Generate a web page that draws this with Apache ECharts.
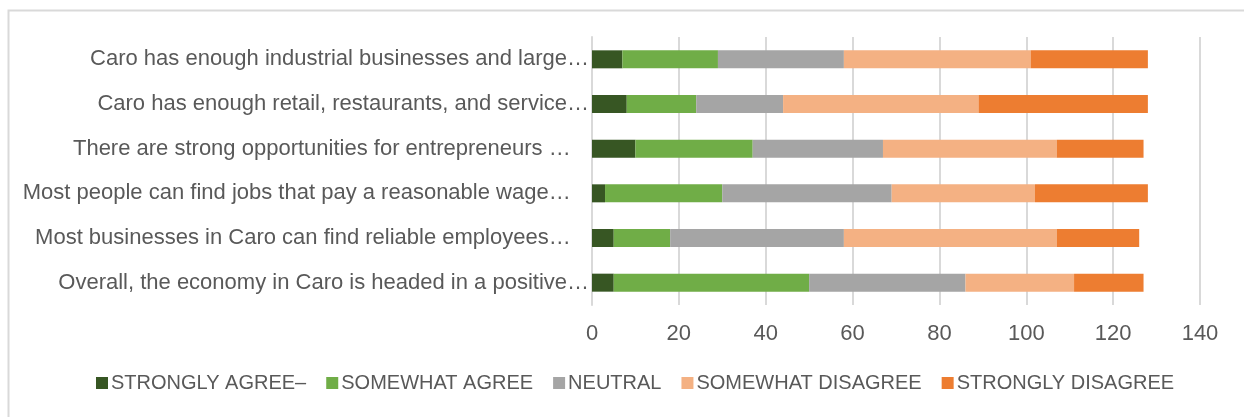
<!DOCTYPE html>
<html>
<head>
<meta charset="utf-8">
<script src="https://cdn.jsdelivr.net/npm/echarts@6/dist/echarts.min.js"></script>
<style>
  html, body { margin: 0; padding: 0; background: #ffffff; }
  #chart { width: 1244px; height: 417px; }
</style>
</head>
<body>
<div id="chart"></div>
<script>
// Survey statements, listed bottom to top as the category axis draws them
const statements = [
  'Overall, the economy in Caro is headed in a positive…',
  'Most businesses in Caro can find reliable employees…\u00a0\u00a0\u00a0',
  'Most people can find jobs that pay a reasonable wage…\u00a0\u00a0\u00a0',
  'There are strong opportunities for entrepreneurs …\u00a0\u00a0\u00a0',
  'Caro has enough retail, restaurants, and service…',
  'Caro has enough industrial businesses and large…'
];

const responseLevels = ['STRONGLY AGREE–', 'SOMEWHAT AGREE', 'NEUTRAL', 'SOMEWHAT DISAGREE', 'STRONGLY DISAGREE'];

// Response counts per statement (same order as statements)
const stronglyAgree    = [5, 5, 3, 10, 8, 7];
const somewhatAgree    = [45, 13, 27, 27, 16, 22];
const neutral          = [36, 40, 39, 30, 20, 29];
const somewhatDisagree = [25, 49, 33, 40, 45, 43];
const stronglyDisagree = [16, 19, 26, 20, 39, 27];

const axisTicks = { min: 0, max: 140, interval: 20 };

const levelColors = ['#375623', '#70AD47', '#A5A5A5', '#F4B183', '#ED7D31'];
const seriesValues = [stronglyAgree, somewhatAgree, neutral, somewhatDisagree, stronglyDisagree];

const FONT = "'Liberation Sans', Arial, sans-serif";

const chart = echarts.init(document.getElementById('chart'), null, { renderer: 'canvas' });

chart.setOption({
  animation: false,
  backgroundColor: '#ffffff',
  textStyle: { fontFamily: FONT },
  graphic: [{
    type: 'rect',
    left: 6, top: 8,
    shape: { width: 1300, height: 500 },
    style: { fill: 'none', stroke: '#d9d9d9', lineWidth: 2 },
    silent: true,
    z: -1
  }],
  grid: { left: 592, right: 44, top: 37, bottom: 112, containLabel: false, outerBoundsMode: 'none' },
  legend: {
    data: responseLevels,
    bottom: 19,
    left: 91,
    itemWidth: 12,
    itemHeight: 12,
    itemGap: 20,
    icon: 'rect',
    textStyle: { color: '#595959', fontSize: 20, fontFamily: FONT, padding: [0, 0, 0, -2] }
  },
  xAxis: {
    type: 'value',
    min: axisTicks.min,
    max: axisTicks.max,
    interval: axisTicks.interval,
    axisLine: { show: false },
    axisTick: { show: false },
    splitLine: { show: true, lineStyle: { color: '#d9d9d9', width: 2 } },
    axisLabel: { color: '#595959', fontSize: 22, fontFamily: FONT, margin: 18 }
  },
  yAxis: {
    type: 'category',
    data: statements,
    axisLine: { show: true, lineStyle: { color: '#d9d9d9', width: 2 } },
    axisTick: { show: false },
    axisLabel: { color: '#595959', fontSize: 22, fontFamily: FONT, margin: 3 }
  },
  series: responseLevels.map((name, i) => ({
    name: name,
    type: 'bar',
    stack: 'responses',
    barWidth: 18,
    itemStyle: { color: levelColors[i] },
    data: seriesValues[i]
  }))
});
</script>
</body>
</html>
